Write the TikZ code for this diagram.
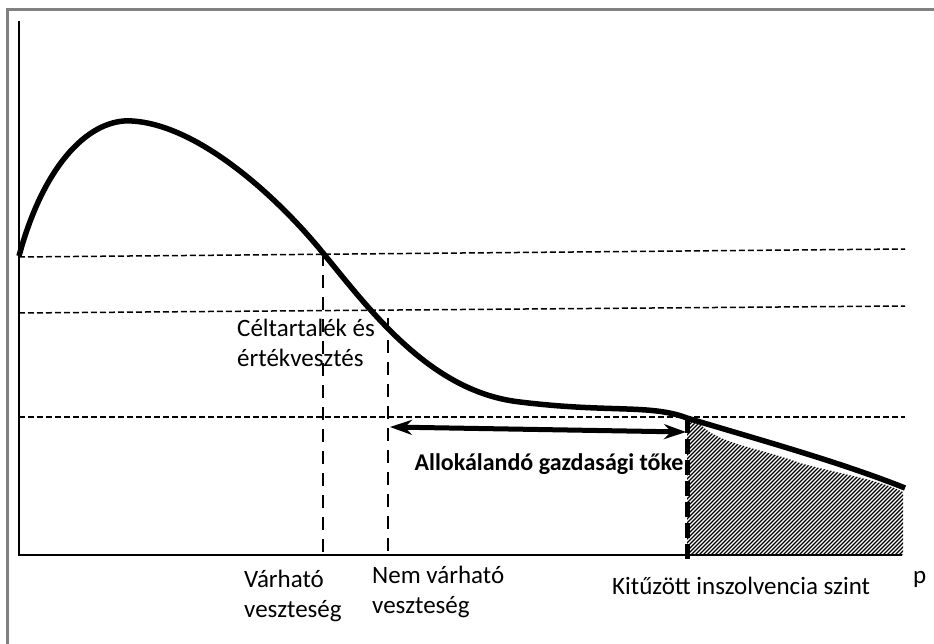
\documentclass[tikz,border=0pt]{standalone}
\usepackage{fontspec}
\setmainfont{Carlito}
\usetikzlibrary{arrows.meta}
\tikzset{
  guide/.style={dash pattern=on 6pt off 3pt,line width=1.5pt},
  mark line/.style={dash pattern=on 13pt off 9pt,line width=2.6pt},
  solvency/.style={dash pattern=on 15pt off 6pt,line width=5pt},
  lbl/.style={font=\fontsize{25}{30}\selectfont,inner sep=0pt,align=left}
}
\begin{document}
\begin{tikzpicture}[x=1pt,y=-1pt]
\useasboundingbox (0,0) rectangle (934,644);
%frame
\draw[gray,line width=3pt](7,644)--(7,10)--(934,10);
%points
\coordinate (O) at (19,555);
\coordinate (top) at (19,21);
\coordinate (end) at (902,555);
\coordinate (el) at (323,253);
\coordinate (ul) at (388,318);
\coordinate (sl) at (687,418);
%axis
\draw[line width=2.6pt](top)--(O)--(end);
%levels
\draw[guide](19,257)--(905,249);
\draw[guide](19,313)--(905,306);
\draw[guide](19,417)--(905,417);
%tail
\begin{scope}
\clip(sl)--(700,424) .. controls (718,444) and (760,448) .. (800,463)
  .. controls (840,474) and (880,480) .. (903,492)--(903,555)--(sl|-O)--cycle;
\foreach \i in {530,534,...,910}
  \draw[line width=1.3pt](\i,560)--++(160,-160);
\end{scope}
%function
\draw[line width=5.5pt](19,256) .. controls (45,160) and (92,118) .. (132,121)
  .. controls (200,125) and (280,200) .. (el)
  .. controls (370,310) and (430,392) .. (520,402)
  .. controls (610,413) and (650,404) .. (sl)
  .. controls (760,440) and (840,462) .. (905,488);
%marks
\draw[mark line](el)--(el|-O);
\draw[mark line](ul)--(ul|-O);
\draw[solvency](sl)--(687,561);
\coordinate (al) at (390,427);
\coordinate (ar) at (686,432);
\draw[line width=5pt,{Stealth[length=22pt,width=15pt]}-{Stealth[length=22pt,width=15pt]}](al)--(ar);
%labels
\node[lbl,anchor=north west](res) at (237,319){Céltartalék és\\értékvesztés};
\node[lbl,anchor=north west](el-t) at (244,570){Várható\\veszteség};
\node[lbl,anchor=north west](ul-t) at (372,566){Nem várható\\veszteség};
\node[lbl,anchor=north west](sl-t) at (612,577){Kitűzött inszolvencia szint};
\node[lbl,anchor=west](p) at (913,579){p};
\node[lbl,font=\fontsize{24}{28}\selectfont\bfseries](cap) at (549,464){Allokálandó gazdasági tőke};
\end{tikzpicture}
\end{document}
